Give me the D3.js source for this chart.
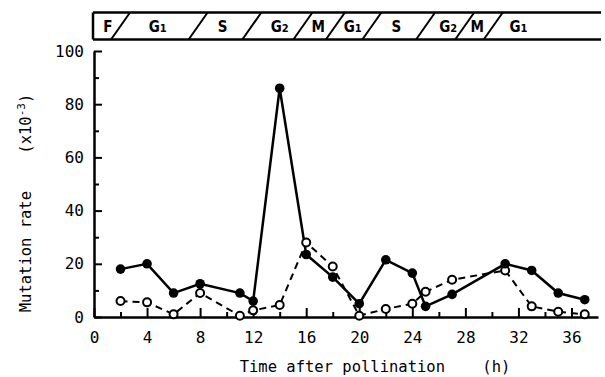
<!DOCTYPE html>
<html>
<head>
<meta charset="utf-8">
<script src="https://cdn.jsdelivr.net/npm/d3@7/dist/d3.min.js"></script>
<style>
  body { margin: 0; background: #fff; }
  text { font-family: "DejaVu Sans Mono", "Liberation Mono", monospace; fill: #000; }
</style>
</head>
<body>
<div class="mutationChart"></div>
<script>
// hours after pollination where each sample was taken
const hours = [2, 4, 6, 8, 11, 12, 14, 16, 18, 20, 22, 24, 25, 27, 31, 33, 35, 37];
// mutation rate (x10^-3), filled dots / solid line
const solidRate = [18, 20, 9, 12.5, 9, 6, 86, 23.5, 15, 5, 21.5, 16.5, 4, 8.5, 20, 17.5, 9, 6.5];
// mutation rate (x10^-3), open dots / dashed line
const openRate = [6, 5.5, 1, 9, 0.5, 2.5, 4.5, 28, 19, 0.5, 3, 5, 9.5, 14, 17.5, 4, 2, 1];

const xTicks = [0, 4, 8, 12, 16, 20, 24, 28, 32, 36];
const xMinorTicks = [2, 6, 10, 14, 18, 22, 26, 30, 34];
const yTicks = [0, 20, 40, 60, 80, 100];
const yMinorTicks = [10, 30, 50, 70, 90];

// cell cycle band on top: names, slash positions and label positions (in hours)
const phaseNames = ["F", "G1", "S", "G2", "M", "G1", "S", "G2", "M", "G1"];
const phaseLabelAt = [1.05, 4.8, 9.7, 14.0, 16.9, 19.5, 22.8, 26.7, 28.9, 32.0];
const phaseBounds = [2.0, 7.85, 11.9, 15.75, 18.2, 20.95, 25.0, 27.95, 30.1];

const W = 605, H = 377;
const mLeft = 94, mRight = 7, mTop = 51, mBottom = 60;

const svg = d3.select(".mutationChart")
  .append("svg")
  .attr("width", W)
  .attr("height", H);

const x = d3.scaleLinear().domain([0, 38]).range([mLeft, W - mRight]);
const y = d3.scaleLinear().domain([0, 100]).range([H - mBottom, mTop]);

/* -1- axes with inward ticks */
svg.append("g")
  .attr("transform", `translate(0,${y(0)})`)
  .call(d3.axisBottom(x).tickValues(xTicks).tickSizeInner(-9).tickSizeOuter(0).tickPadding(15));
svg.append("g")
  .attr("transform", `translate(0,${y(0)})`)
  .call(d3.axisBottom(x).tickValues(xMinorTicks).tickSizeInner(-5).tickSizeOuter(0).tickFormat(""))
  .select(".domain").remove();

svg.append("g")
  .attr("transform", `translate(${x(0)},0)`)
  .call(d3.axisLeft(y).tickValues(yTicks).tickSizeInner(-8).tickSizeOuter(0).tickPadding(10));
svg.append("g")
  .attr("transform", `translate(${x(0)},0)`)
  .call(d3.axisLeft(y).tickValues(yMinorTicks).tickSizeInner(-5).tickSizeOuter(0).tickFormat(""))
  .select(".domain").remove();

svg.selectAll(".domain").attr("stroke-width", 2.5);
svg.selectAll(".tick line").attr("stroke-width", 2);
svg.selectAll(".tick text")
  .style("font-family", "'DejaVu Sans Mono', monospace")
  .style("font-size", "16px");

/* -2- axis titles */
svg.append("text")
  .attr("x", 375).attr("y", 372)
  .attr("text-anchor", "middle")
  .style("font-size", "15.5px")
  .style("white-space", "pre")
  .text("Time after pollination    (h)");

const yTitle = svg.append("text")
  .attr("transform", "translate(31,203) rotate(-90)")
  .attr("text-anchor", "middle")
  .style("font-size", "15.5px")
  .style("white-space", "pre");
yTitle.append("tspan").text("Mutation rate    (x10");
yTitle.append("tspan").attr("dy", -6).style("font-size", "11px").text("-3");
yTitle.append("tspan").attr("dy", 6).text(")");

/* -3- cell cycle band */
const bandTop = 12.5, bandBottom = 39.5, slant = 19;
const band = svg.append("g").attr("stroke", "#000").attr("fill", "none");
band.append("line").attr("x1", 93).attr("x2", 601).attr("y1", bandTop).attr("y2", bandTop).attr("stroke-width", 2.5);
band.append("line").attr("x1", 93).attr("x2", 601).attr("y1", bandBottom).attr("y2", bandBottom).attr("stroke-width", 2.5);
band.append("line").attr("x1", 93).attr("x2", 93).attr("y1", bandTop).attr("y2", bandBottom).attr("stroke-width", 2.5);
band.selectAll(".slash")
  .data(phaseBounds)
  .enter()
  .append("line")
  .attr("class", "slash")
  .attr("x1", (d) => x(d) - slant / 2)
  .attr("y1", bandBottom)
  .attr("x2", (d) => x(d) + slant / 2)
  .attr("y2", bandTop)
  .attr("stroke-width", 2);

const labels = svg.selectAll(".phase")
  .data(phaseNames)
  .enter()
  .append("text")
  .attr("class", "phase")
  .attr("x", (d, i) => x(phaseLabelAt[i]))
  .attr("y", 32)
  .attr("text-anchor", "middle")
  .style("font-family", "'DejaVu Sans Condensed', 'DejaVu Sans', sans-serif")
  .style("font-weight", "bold")
  .style("font-size", "15px");
labels.append("tspan").text((d) => d[0]);
labels.append("tspan").style("font-size", "11px").text((d) => d.slice(1));

/* -4- series lines and markers */
const line = (vals) => d3.line()
  .x((d) => x(d))
  .y((d, i) => y(vals[i]))(hours);

svg.append("path")
  .attr("d", line(openRate))
  .attr("fill", "none")
  .attr("stroke", "#000")
  .attr("stroke-width", 2)
  .attr("stroke-dasharray", "7,5");

svg.append("path")
  .attr("d", line(solidRate))
  .attr("fill", "none")
  .attr("stroke", "#000")
  .attr("stroke-width", 2.5);

svg.selectAll(".openDot")
  .data(hours)
  .enter()
  .append("circle")
  .attr("class", "openDot")
  .attr("cx", (d) => x(d))
  .attr("cy", (d, i) => y(openRate[i]))
  .attr("r", 4)
  .attr("fill", "#fff")
  .attr("stroke", "#000")
  .attr("stroke-width", 2);

svg.selectAll(".solidDot")
  .data(hours)
  .enter()
  .append("circle")
  .attr("class", "solidDot")
  .attr("cx", (d) => x(d))
  .attr("cy", (d, i) => y(solidRate[i]))
  .attr("r", 4.8)
  .attr("fill", "#000");
</script>
</body>
</html>
